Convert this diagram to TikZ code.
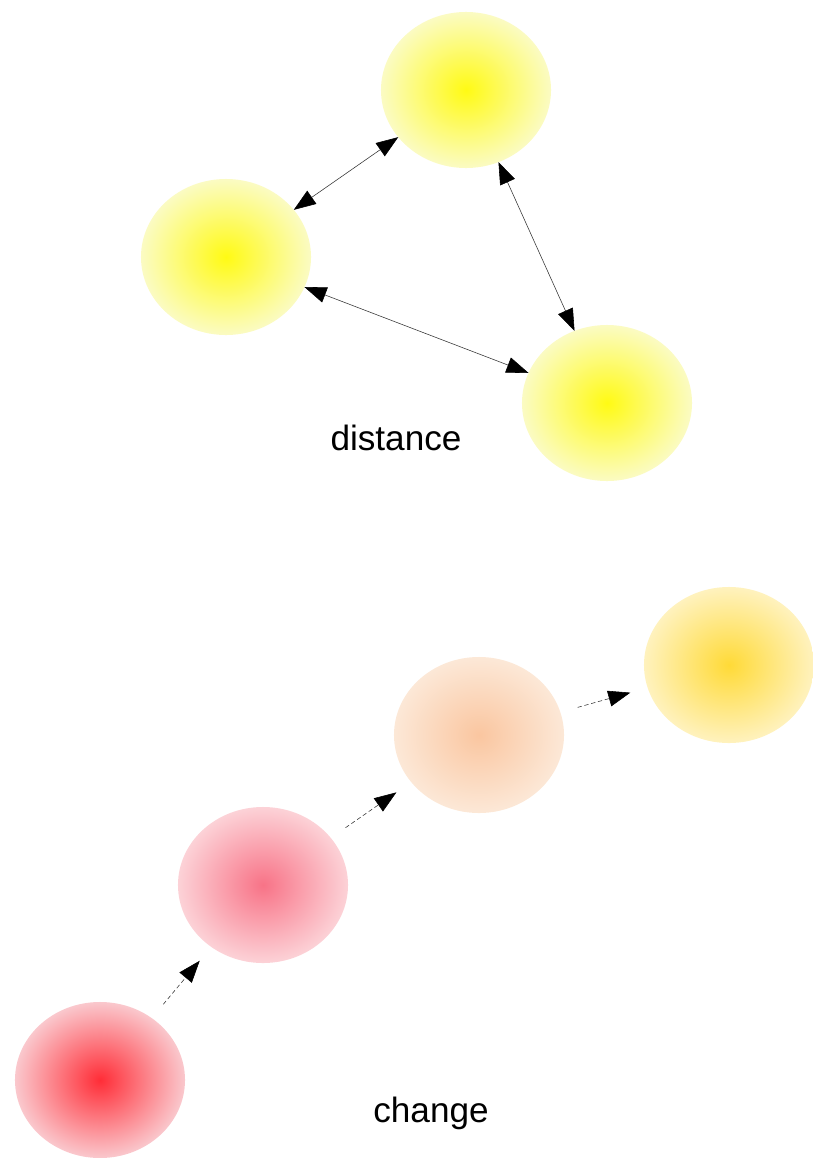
\documentclass[tikz,border=0pt]{standalone}
\usepackage{fontspec}
\setmainfont{Liberation Sans}
\usetikzlibrary{arrows.meta,shapes.geometric}

\definecolor{ylwin}{RGB}{255,250,20}
\definecolor{ylwout}{RGB}{251,251,195}
\definecolor{redin}{RGB}{255,45,55}
\definecolor{redout}{RGB}{250,200,205}
\definecolor{pinkin}{RGB}{248,115,135}
\definecolor{pinkout}{RGB}{252,210,215}
\definecolor{peachin}{RGB}{250,198,160}
\definecolor{peachout}{RGB}{252,232,215}
\definecolor{goldin}{RGB}{255,218,55}
\definecolor{goldout}{RGB}{255,242,190}

\tikzset{
  ball/.style 2 args={ellipse, inner sep=0pt, outer sep=0pt,
    minimum width=4.25cm, minimum height=3.9cm,
    inner color=#1, outer color=#2},
  link/.style={<->, draw=black!80, line width=0.4pt},
  flow/.style={->, draw=black!80, line width=0.4pt, dash pattern=on 3pt off 2pt,
    shorten <=0.45cm, shorten >=0.45cm},
  caption/.style={font=\fontsize{25}{30}\selectfont}
}

\begin{document}
\begin{tikzpicture}[x=0.025cm, y=-0.025cm,
    >={Triangle[length=5.5mm,width=4mm,color=black]}]
  \useasboundingbox (0,0) rectangle (813,1158);

  % distance
  \node[ball={ylwin}{ylwout}] (top) at (466,90) {};
  \node[ball={ylwin}{ylwout}] (left) at (226,257) {};
  \node[ball={ylwin}{ylwout}] (right) at (607,403) {};
  \draw[link] (left) -- (top);
  \draw[link] (top) -- (right);
  \draw[link] (left) -- (right);
  \node[caption] (dist) at (396,438) {distance};

  % change
  \node[ball={redin}{redout}] (c1) at (100,1080) {};
  \node[ball={pinkin}{pinkout}] (c2) at (263,885) {};
  \node[ball={peachin}{peachout}] (c3) at (479,735) {};
  \node[ball={goldin}{goldout}] (c4) at (729,665) {};
  \draw[flow] (c1) -- (c2);
  \draw[flow] (c2) -- (c3);
  \draw[flow] (c3) -- (c4);
  \node[caption] (chg) at (431,1113) {change};
\end{tikzpicture}
\end{document}
